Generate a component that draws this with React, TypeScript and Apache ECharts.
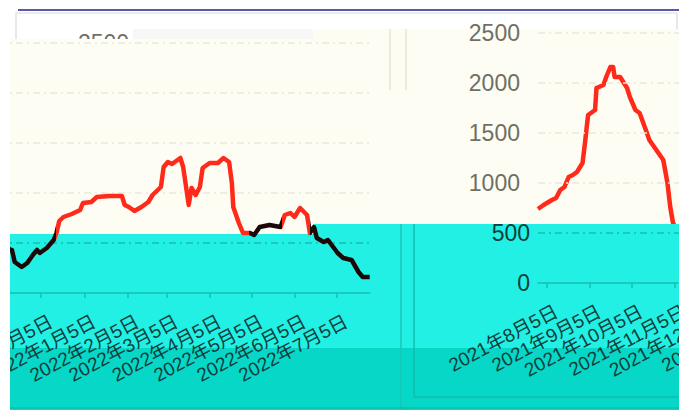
import React, { useEffect, useRef } from "react";
import * as echarts from "echarts";

// ---------- data ----------
const START_UTC = Date.UTC(2021, 6, 30);
const DAY_COUNT = 365;
const pad = (n: number) => (n < 10 ? "0" + n : "" + n);
const categories: string[] = [];
for (let i = 0; i < DAY_COUNT; i++) {
  const d = new Date(START_UTC + i * 86400000);
  categories.push(`${d.getUTCFullYear()}-${pad(d.getUTCMonth() + 1)}-${pad(d.getUTCDate())}`);
}

const pointDates = [
  "2021-07-30", "2021-08-03", "2021-08-09", "2021-08-12", "2021-08-15", "2021-08-18", "2021-08-21",
  "2021-08-24", "2021-08-27", "2021-08-31", "2021-09-02", "2021-09-03", "2021-09-04", "2021-09-09",
  "2021-09-10", "2021-09-15", "2021-09-17", "2021-09-20", "2021-09-22", "2021-09-23", "2021-09-27",
  "2021-10-02", "2021-10-04", "2021-10-08", "2021-10-11", "2021-10-16", "2021-10-18", "2021-10-22",
  "2021-10-28", "2021-10-31", "2021-11-02", "2021-11-04", "2021-11-08", "2021-11-12", "2021-11-14",
  "2021-11-16", "2021-11-21", "2021-11-25", "2021-11-29", "2021-12-02", "2021-12-04", "2021-12-09",
  "2021-12-14", "2021-12-16", "2021-12-18", "2021-12-21", "2021-12-27", "2022-01-02", "2022-01-04",
  "2022-01-10", "2022-01-14", "2022-01-23", "2022-02-01", "2022-02-03", "2022-02-06", "2022-02-10",
  "2022-02-15", "2022-02-20", "2022-02-23", "2022-03-01", "2022-03-03", "2022-03-06", "2022-03-09",
  "2022-03-15", "2022-03-17", "2022-03-21", "2022-03-23", "2022-03-26", "2022-03-29", "2022-03-31",
  "2022-04-05", "2022-04-11", "2022-04-15", "2022-04-19", "2022-04-21", "2022-04-22", "2022-04-26",
  "2022-04-29", "2022-05-04", "2022-05-07", "2022-05-11", "2022-05-18", "2022-05-26", "2022-05-29",
  "2022-06-02", "2022-06-05", "2022-06-09", "2022-06-14", "2022-06-16", "2022-06-19", "2022-06-21",
  "2022-06-26", "2022-06-29", "2022-07-06", "2022-07-10", "2022-07-16", "2022-07-21", "2022-07-24",
  "2022-07-29",
];
const pointValues = [
  740, 780, 830, 850, 930, 960, 1060,
  1080, 1110, 1200, 1430, 1560, 1680, 1730,
  1950, 1980, 2060, 2160, 2160, 2060, 2060,
  1950, 1860, 1730, 1700, 1510, 1430, 1350,
  1230, 1000, 760, 600, 500, 440, 430,
  310, 260, 300, 380, 430, 400, 450,
  530, 600, 720, 760, 790, 830, 900,
  910, 960, 970, 970, 880, 860, 820,
  860, 910, 980, 1060, 1260, 1310, 1290,
  1350, 1260, 880, 1050, 980, 1060, 1250,
  1300, 1300, 1350, 1310, 1100, 860, 700,
  600, 600, 580, 660, 680, 660, 780,
  800, 760, 850, 780, 600, 660, 550,
  510, 530, 400, 350, 330, 210, 160,
  160,
];
const redSpans: [string, string][] = [
  ["2021-12-16", "2022-05-03"],
  ["2022-05-27", "2022-06-16"],
];
// visible date-label ranges of the two panels
const leftLabelFrom = "2021-12-05";
const rightLabelTo = "2022-01-05";
const Y_MIN = 0;
const Y_MAX = 2500;
const Y_STEP = 500;

// ---------- styles ----------
const RED = "#ff2a1a";
const DARK = "#1c0806";
const CREAM = "#fdfdf3";
const CYAN = "#22f0e4";
const CYAN_DARK = "#07d7c7";
const TEAL = "#17bfb1";
const GRAY_TXT = "#6f6f64";
const DARK_TXT = "#0f3f3b";
const FONT = "'Liberation Sans', 'Noto Sans CJK SC', sans-serif";

const PX_PER_DAY = 1.392;
const GRID_W = (DAY_COUNT - 1) * PX_PER_DAY;
const LABEL_DX = 10;

const isTickDay = (_i: number, v: string) => v.slice(8) === "05";
const fmtDate = (v: string) => {
  const [y, m, d] = v.split("-");
  return `${y}年${parseInt(m, 10)}月${parseInt(d, 10)}日`;
};

function makeOption() {
  const data = pointDates.map((d, i) => [d, pointValues[i]]);
  const idx = (d: string) => categories.indexOf(d);
  const pieces: any[] = [];
  let cursor = 0;
  redSpans.forEach(([a, b]) => {
    pieces.push({ gte: cursor, lt: idx(a), color: DARK });
    pieces.push({ gte: idx(a), lt: idx(b), color: RED });
    cursor = idx(b);
  });
  pieces.push({ gte: cursor, color: DARK });

  // colours per split line: 0, 500 (on cyan), 1000.. (on cream)
  const splitLine = {
    show: true,
    lineStyle: {
      color: ["rgba(0,0,0,0)", "#19bdaf", "#e7e8dc", "#e7e8dc", "#e7e8dc", "#e7e8dc"],
      width: 1.5,
      type: [7, 4, 2, 4],
    },
  };
  const baseX = (grid: number) => ({
    type: "category",
    gridIndex: grid,
    data: categories,
    boundaryGap: false,
    z: 5,
    axisLine: { show: true, lineStyle: { color: TEAL, width: 1.5 } },
    axisTick: { show: true, interval: isTickDay, length: 5, lineStyle: { color: TEAL, width: 1.5 } },
    axisLabel: { show: false },
    splitLine: { show: false },
  });
  const labelX = (grid: number, keep: (v: string) => boolean) => ({
    type: "category",
    gridIndex: grid,
    data: categories,
    boundaryGap: false,
    z: 5,
    axisLine: { show: false },
    axisTick: { show: false },
    axisLabel: {
      show: true,
      interval: (i: number, v: string) => isTickDay(i, v) && keep(v),
      rotate: 28,
      margin: 27,
      fontSize: 19,
      fontFamily: FONT,
      color: DARK_TXT,
      formatter: fmtDate,
    },
    splitLine: { show: false },
  });
  const baseY = (grid: number, extra: any) => ({
    type: "value",
    gridIndex: grid,
    min: Y_MIN,
    max: Y_MAX,
    interval: Y_STEP,
    z: 5,
    axisLine: { show: false },
    axisTick: { show: false },
    ...extra,
  });
  const gridBase = { outerBoundsMode: "none", containLabel: false, height: 250, width: GRID_W };

  return {
    animation: false,
    backgroundColor: "#ffffff",
    grid: [
      { ...gridBase, left: -137, top: 43 },
      { ...gridBase, left: 538, top: 33 },
      { ...gridBase, left: -137 + LABEL_DX, top: 43 },
      { ...gridBase, left: 538 + LABEL_DX, top: 33 },
    ],
    xAxis: [
      baseX(0),
      baseX(1),
      labelX(2, (v) => v >= leftLabelFrom),
      labelX(3, (v) => v <= rightLabelTo),
    ],
    yAxis: [
      baseY(0, { axisLabel: { show: false }, splitLine }),
      baseY(1, {
        axisLabel: {
          show: true,
          margin: 18,
          fontSize: 23,
          fontFamily: FONT,
          color: GRAY_TXT,
          formatter: (v: number) => (v >= 1000 ? String(v) : ""),
        },
        splitLine,
      }),
      baseY(2, { show: false, splitLine: { show: false } }),
      baseY(3, {
        axisLabel: {
          show: true,
          margin: 18,
          fontSize: 23,
          fontFamily: FONT,
          color: DARK_TXT,
          formatter: (v: number) => (v < 1000 ? String(v) : ""),
        },
        splitLine: { show: false },
      }),
    ],
    visualMap: [
      { type: "piecewise", show: false, dimension: 0, seriesIndex: 0, pieces },
    ],
    series: [
      {
        type: "line",
        xAxisIndex: 0,
        yAxisIndex: 0,
        data,
        symbol: "none",
        z: 6,
        lineStyle: { width: 4.5, join: "round" },
      },
      {
        type: "line",
        xAxisIndex: 1,
        yAxisIndex: 1,
        data,
        symbol: "none",
        z: 3,
        color: RED,
        lineStyle: { width: 4.5, color: RED, join: "round" },
      },
    ],
    graphic: [
      {
        type: "text", z: 1, x: 78, y: 43,
        style: { text: "2500", font: `23px ${FONT}`, fill: GRAY_TXT, verticalAlign: "middle" },
      },
      { type: "rect", z: 2, shape: { x: 10, y: 39, width: 303, height: 195 }, style: { fill: CREAM } },
      { type: "rect", z: 2, shape: { x: 313, y: 29, width: 366, height: 195 }, style: { fill: CREAM } },
      { type: "rect", z: 2, shape: { x: 133, y: 29, width: 180, height: 10 }, style: { fill: "#f7f8f5" } },
      { type: "line", z: 3, shape: { x1: 390, y1: 29, x2: 390, y2: 90 }, style: { stroke: "#e3e3d9", lineWidth: 1.5 } },
      { type: "line", z: 3, shape: { x1: 406, y1: 29, x2: 406, y2: 90 }, style: { stroke: "#e3e3d9", lineWidth: 1.5 } },
      { type: "rect", z: 4, shape: { x: 10, y: 234, width: 303, height: 176 }, style: { fill: CYAN } },
      { type: "rect", z: 4, shape: { x: 313, y: 224, width: 366, height: 186 }, style: { fill: CYAN } },
      { type: "rect", z: 4, shape: { x: 10, y: 348, width: 669, height: 62 }, style: { fill: CYAN_DARK } },
      { type: "line", z: 5, shape: { x1: 401, y1: 224, x2: 401, y2: 410 }, style: { stroke: "#16c9ba", lineWidth: 1.5 } },
      { type: "polyline", z: 5, shape: { points: [[414, 224], [414, 397], [679, 397]] }, style: { stroke: "#12bcae", lineWidth: 1.5, fill: null } },
      { type: "line", z: 5, shape: { x1: 10, y1: 408, x2: 679, y2: 408 }, style: { stroke: "#10bdae", lineWidth: 1.5 } },
      { type: "rect", z: 7, shape: { x: 0, y: 0, width: 10, height: 410 }, style: { fill: "#ffffff" } },
      { type: "line", z: 7, shape: { x1: 18, y1: 10, x2: 679, y2: 10 }, style: { stroke: "#22228a", lineWidth: 1.6 } },
      { type: "polyline", z: 7, shape: { points: [[16, 39], [16, 13], [677, 13], [677, 29]] }, style: { stroke: "#d9d9d9", lineWidth: 1.2, fill: null } },
    ],
  };
}

export default function App() {
  const ref = useRef<HTMLDivElement>(null);
  useEffect(() => {
    if (!ref.current) return;
    const chart = echarts.init(ref.current, undefined, { renderer: "svg" });
    chart.setOption(makeOption() as any);
    return () => chart.dispose();
  }, []);
  return (
    <div
      ref={ref}
      style={{ position: "absolute", left: 0, top: 0, width: 679, height: 410, background: "#ffffff" }}
    />
  );
}
